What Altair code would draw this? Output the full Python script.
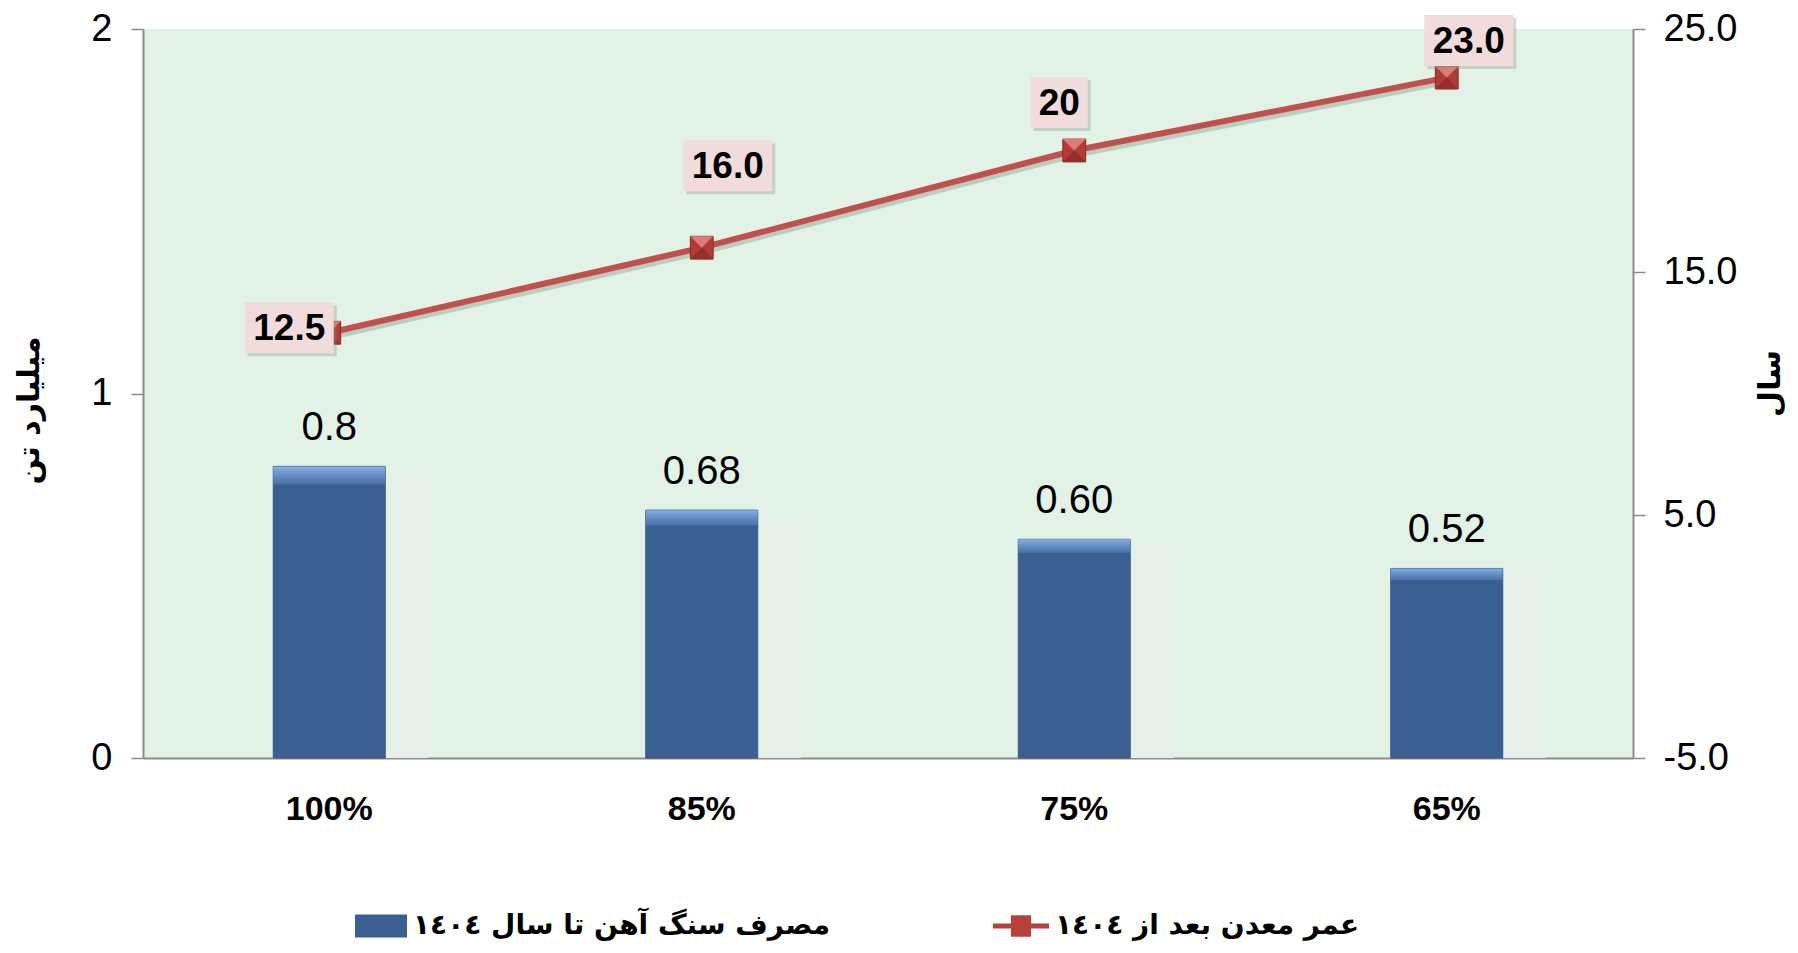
import altair as alt
import pandas as pd

# ---- data ----
categories = ["100%", "85%", "75%", "65%"]
consumption = [0.8, 0.68, 0.60, 0.52]
consumption_labels = ["0.8", "0.68", "0.60", "0.52"]
mine_life = [12.5, 16.0, 20, 23.0]
mine_life_labels = ["12.5", "16.0", "20", "23.0"]
bar_name = "مصرف سنگ آهن تا سال ١٤٠٤"
line_name = "عمر معدن بعد از ١٤٠٤"
left_title = "میلیارد تن"
right_title = "سال"
left_domain = [0, 2]
right_ticks = [-5, 5, 15, 25]

df = pd.DataFrame({
    "cat": categories,
    "cons": consumption,
    "cons_label": consumption_labels,
    "life": mine_life,
    "life_label": mine_life_labels,
    "bar_series": [bar_name] * len(categories),
    "line_series": [line_name] * len(categories),
})

W, H = 1490, 729
NUM_FONT = "Liberation Sans"
AR_FONT = "DejaVu Sans"
GRAY = "#8C8C8C"

x_enc = alt.X(
    "cat:N", sort=categories,
    scale=alt.Scale(paddingInner=0, paddingOuter=0),
    axis=alt.Axis(
        title=None, labelAngle=0, ticks=False, tickSize=0, labelPadding=34,
        labelFont=NUM_FONT, labelFontSize=34, labelFontWeight="bold",
        labelColor="#000000", domainColor=GRAY, domainWidth=2, grid=False,
    ),
)

y_left = alt.Y(
    "cons:Q", scale=alt.Scale(domain=left_domain, nice=False, zero=True),
    axis=alt.Axis(
        orient="left", tickCount=2, format="d", grid=False, labelOverlap=False,
        labelFont=NUM_FONT, labelFontSize=38, labelColor="#000000", labelPadding=19,
        tickSize=12, tickColor=GRAY, tickWidth=1.5, domainColor=GRAY, domainWidth=2,
        title=left_title, titleFont=AR_FONT, titleFontSize=30, titleFontWeight="bold",
        titleColor="#000000", titleAngle=270, titleX=-114, titleY=381,
        titleAlign="center", titleBaseline="middle", titleLimit=2000,
    ),
)

y_right = alt.Y(
    "life:Q", scale=alt.Scale(domain=[-5, 25], nice=False, zero=False),
    axis=alt.Axis(
        orient="right", values=right_ticks, grid=False, labelOverlap=False,
        labelExpr="(datum.value < 0 ? '-' : '') + format(abs(datum.value), '.1f')",
        labelFont=NUM_FONT, labelFontSize=38, labelColor="#000000", labelPadding=18,
        tickSize=12, tickColor=GRAY, tickWidth=1.5, domainColor=GRAY, domainWidth=2,
        title=right_title, titleFont=AR_FONT, titleFontSize=30, titleFontWeight="bold",
        titleColor="#000000", titleAngle=270, titleX=137, titleY=354,
        titleAlign="center", titleBaseline="middle", titleLimit=2000,
    ),
)

base = alt.Chart(df)

# ---- bars (left axis) ----
bar_shadow = base.mark_bar(size=112, xOffset=43, yOffset=7, color="#E6F0E9", clip=True).encode(
    x=x_enc, y=y_left
)
bars = base.mark_bar(size=112, stroke="#34588A", strokeWidth=1).encode(
    x=x_enc, y=y_left,
    fill=alt.Fill(
        "bar_series:N",
        scale=alt.Scale(domain=[bar_name], range=["#3B5F91"]),
        legend=alt.Legend(
            title=None, orient="none", legendX=212, legendY=871, padding=0,
            symbolType="M-1,-0.44H1V0.44H-1Z", symbolSize=2704,
            symbolStrokeWidth=0,
            labelFont=AR_FONT, labelFontSize=28, labelFontWeight="bold",
            labelColor="#000000", labelLimit=2000, labelOffset=6,
        ),
    ),
)
bevel = alt.Gradient(
    gradient="linear", x1=0, y1=0, x2=0, y2=1,
    stops=[
        alt.GradientStop(offset=0, color="rgba(140,182,235,0.95)"),
        alt.GradientStop(offset=0.06, color="rgba(100,144,205,0.45)"),
        alt.GradientStop(offset=0.065, color="rgba(59,95,145,0)"),
        alt.GradientStop(offset=1, color="rgba(59,95,145,0)"),
    ],
)
bar_overlay = base.mark_bar(size=112, color=bevel).encode(x=x_enc, y=y_left)
bar_text = base.mark_text(
    baseline="middle", align="center", dy=-38,
    font=NUM_FONT, fontSize=40, color="#000000",
).encode(x=x_enc, y=y_left, text="cons_label:N")

left_layer = alt.layer(bar_shadow, bars, bar_overlay, bar_text)

# ---- line (right axis) ----
line_shadow = base.mark_line(strokeWidth=6, color="#6E8A76", opacity=0.35, yOffset=4, xOffset=2).encode(
    x=x_enc, y=y_right
)
line = base.mark_line(strokeWidth=6).encode(
    x=x_enc, y=y_right,
    stroke=alt.Stroke(
        "line_series:N",
        scale=alt.Scale(domain=[line_name], range=["#C0504D"]),
        legend=alt.Legend(
            title=None, orient="none", legendX=850, legendY=869, padding=0,
            symbolType="M-1,-0.09H1V0.09H-1Z M-0.36,-0.38H0.36V0.38H-0.36Z",
            symbolSize=3136, symbolFillColor="#B8403C", symbolStrokeWidth=0,
            labelFont=AR_FONT, labelFontSize=28, labelFontWeight="bold",
            labelColor="#000000", labelLimit=2000, labelOffset=6,
        ),
    ),
)
marker = base.mark_point(shape="square", size=520, filled=True, fill="#B13B37",
                         stroke="#8A2926", strokeWidth=1, opacity=1).encode(x=x_enc, y=y_right)
marker_top = base.mark_point(shape="M-1,-1L1,-1L0,0Z", size=520, filled=True,
                             fill="#E07C78", strokeWidth=0, opacity=1).encode(x=x_enc, y=y_right)
marker_bot = base.mark_point(shape="M-1,1L1,1L0,0Z", size=520, filled=True,
                             fill="#962D2A", strokeWidth=0, opacity=1).encode(x=x_enc, y=y_right)

label_offsets = [(-40, -5), (26, -82), (-15, -48), (22, -37)]
label_layers = []
for i, (dx, dy) in enumerate(label_offsets):
    w = 89 if len(mine_life_labels[i]) > 2 else 57
    h = 51
    r = h / w
    path = f"M-1,-{r:.4f}H1V{r:.4f}H-1Z"
    sub = base.transform_filter(alt.datum.cat == categories[i])
    shadow = sub.mark_point(shape=path, size=w * w, filled=True, fill="#7F9985",
                            opacity=0.35, strokeWidth=0, xOffset=dx + 3, yOffset=dy + 3).encode(
        x=x_enc, y=y_right)
    box = sub.mark_point(shape=path, size=w * w, filled=True, fill="#F2DCDB",
                         opacity=1, strokeWidth=0, xOffset=dx, yOffset=dy).encode(
        x=x_enc, y=y_right)
    txt = sub.mark_text(dx=dx, dy=dy + 1, baseline="middle", align="center",
                        font=NUM_FONT, fontSize=37, fontWeight="bold", color="#000000").encode(
        x=x_enc, y=y_right, text="life_label:N")
    label_layers += [shadow, box, txt]

right_layer = alt.layer(line_shadow, line, marker, marker_top, marker_bot, *label_layers)

chart = alt.layer(left_layer, right_layer).resolve_scale(y="independent").properties(
    width=W, height=H,
    padding={"left": 135, "top": 21, "right": 157, "bottom": 187},
    autosize="none",
    background="#FFFFFF",
).configure_view(fill="#E3F2E7", stroke=None)

chart.save("out.html", embed_options={"renderer": "svg", "actions": False})
